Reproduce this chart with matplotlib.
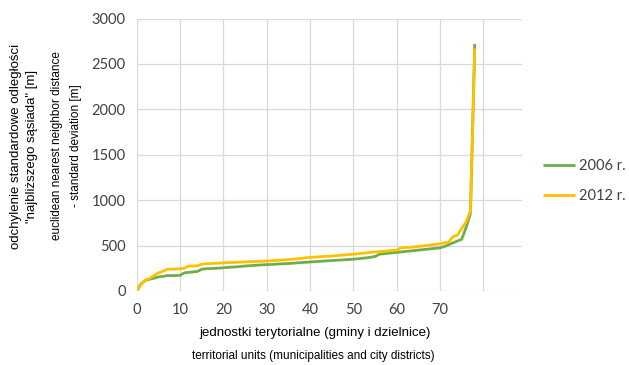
import matplotlib
matplotlib.use("Agg")
import matplotlib.pyplot as plt
import numpy as np

# Standard deviation of nearest-neighbour distance per territorial unit (sorted)
units = list(range(0, 79))
sd_2006 = [0, 80, 118, 130, 140, 155, 160, 170, 170, 170,
           172, 200, 205, 210, 215, 240, 245, 247, 250, 252,
           255, 260, 263, 266, 270, 275, 278, 282, 285, 288,
           290, 292, 295, 298, 300, 303, 306, 310, 313, 316,
           320, 323, 326, 329, 332, 335, 338, 341, 344, 347,
           350, 355, 360, 365, 372, 380, 405, 410, 415, 420,
           425, 430, 435, 440, 445, 450, 455, 460, 465, 470,
           475, 490, 510, 530, 550, 570, 700, 850, 2720]
sd_2012 = [0, 70, 120, 140, 170, 200, 215, 240, 240, 242,
           245, 250, 275, 275, 278, 295, 300, 302, 305, 308,
           310, 312, 314, 316, 318, 320, 322, 324, 326, 328,
           330, 333, 336, 339, 342, 345, 350, 355, 360, 365,
           370, 373, 376, 379, 382, 385, 389, 393, 397, 401,
           405, 410, 415, 420, 425, 430, 434, 438, 442, 446,
           450, 475, 478, 481, 485, 490, 496, 502, 508, 514,
           520, 530, 540, 600, 615, 690, 760, 880, 2670]

x_grid = [0, 10, 20, 30, 40, 50, 60, 70, 80]
x_ticks = [0, 10, 20, 30, 40, 50, 60, 70]
y_ticks = [0, 500, 1000, 1500, 2000, 2500, 3000]
series_labels = ["2006 r.", "2012 r."]

fig = plt.figure(figsize=(6.29, 3.65), dpi=100)
ax = fig.add_axes([136.7 / 629, 1 - 291 / 365, (522 - 136.7) / 629, (291 - 18.5) / 365])

grid_col = "#d9d9d9"
ax.set_xlim(0, 88.9)
ax.set_ylim(0, 3000)
for gx in x_grid:
    ax.axvline(gx, color=grid_col, lw=0.9, zorder=0)
for gy in y_ticks:
    ax.axhline(gy, color=grid_col, lw=0.9, zorder=0)
for s in ax.spines.values():
    s.set_visible(False)

l1, = ax.plot(units, sd_2006, color="#70AD47", lw=2.0, solid_capstyle="butt",
              solid_joinstyle="round", zorder=3)
l2, = ax.plot(units, sd_2012, color="#FFC000", lw=2.0, solid_capstyle="butt",
              solid_joinstyle="round", zorder=4)

tick_font = dict(family="Lato", size=10.5, color="#404040")
ax.set_xticks(x_ticks)
ax.set_xticklabels([str(v) for v in x_ticks], **tick_font)
ax.set_yticks(y_ticks)
ax.set_yticklabels([str(v) for v in y_ticks], **tick_font)
ax.tick_params(length=0, pad=8)
ax.tick_params(axis="x", pad=9)

title_font = dict(family="Liberation Sans", color="#000000")
fig.text(315 / 629, 1 - 333 / 365, "jednostki terytorialne (gminy i dzielnice)",
         ha="center", va="center", size=9.5, **title_font)
fig.text(313 / 629, 1 - 356 / 365, "territorial units (municipalities and city districts)",
         ha="center", va="center", size=8.5, **title_font)
fig.text(24 / 629, 1 - 146 / 365,
         "odchylenie standardowe odległości\n\"najbliższego sąsiada\" [m]",
         ha="center", va="center", rotation=90, size=9.5, linespacing=1.45, **title_font)
fig.text(66.5 / 629, 1 - 146 / 365,
         "euclidean nearest neighbor distance\n- standard deviation [m]",
         ha="center", va="center", rotation=90, size=8.5, linespacing=1.75, **title_font)

leg = fig.legend([l1, l2], series_labels, loc="center left",
                 bbox_to_anchor=(543 / 629, 1 - 181 / 365), frameon=False,
                 borderpad=0, borderaxespad=0,
                 prop=dict(family="Lato", size=10.5), handlelength=2.2,
                 labelspacing=1.15, handletextpad=0.25)
for t in leg.get_texts():
    t.set_color("#404040")

fig.savefig("out.png", dpi=100)
